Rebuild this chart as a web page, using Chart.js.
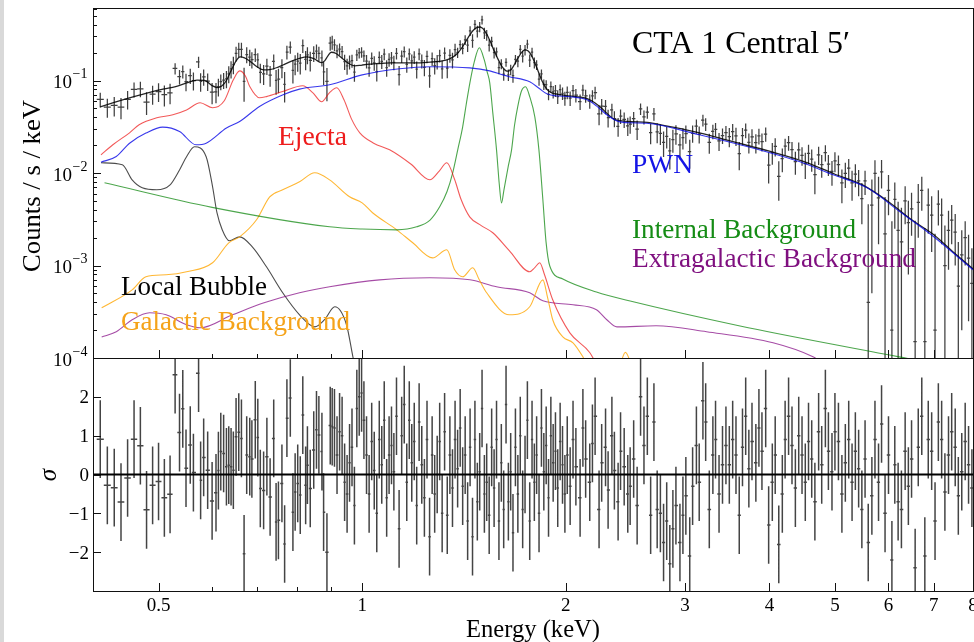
<!DOCTYPE html>
<html><head><meta charset="utf-8">
<script src="https://cdn.jsdelivr.net/npm/chart.js@4.4.0/dist/chart.umd.min.js"></script>
<style>
html,body{margin:0;padding:0;background:#fff;}
#wrap{position:relative;width:974px;height:642px;overflow:hidden;background:#fff;}
#strip{position:absolute;left:0;top:0;width:4px;height:642px;background:#d9d9d9;}
canvas{position:absolute;left:0;top:0;}
</style></head><body>
<div id="wrap"><div id="strip"></div>
<canvas id="top" width="974" height="642"></canvas>
<canvas id="bot" width="974" height="642"></canvas></div>
<script>
// ---------------- data ----------------
const dataE = [
0.410,0.420,0.430,0.440,0.450,0.460,0.470,0.480,0.490,0.500,0.510,0.520,0.529,0.537,0.543,0.549,0.557,0.563,0.573,0.577,
0.583,0.591,0.600,0.608,0.613,0.618,0.624,0.630,0.635,0.640,0.645,0.651,0.657,0.663,0.669,0.675,0.682,0.687,0.695,0.701,
0.707,0.715,0.723,0.731,0.740,0.746,0.752,0.761,0.768,0.774,0.783,0.790,0.796,0.803,0.810,0.817,0.825,0.830,0.838,0.848,
0.856,0.863,0.872,0.877,0.887,0.897,0.903,
0.910,0.918,0.926,0.934,0.942,0.950,0.958,0.966,0.974,0.982,0.990,0.998,1.006,1.015,1.024,1.033,1.042,1.051,1.060,1.069,
1.078,1.087,1.096,1.105,1.114,1.124,1.134,1.144,1.154,1.164,1.174,1.184,1.194,1.204,1.214,1.225,1.236,1.247,1.258,1.269,
1.280,1.291,1.302,1.313,1.324,1.336,1.348,1.360,1.372,1.384,1.396,1.408,1.420,1.432,1.444,1.456,1.468,1.480,1.492,1.504,
1.516,1.528,1.541,1.554,1.567,1.580,1.593,1.606,1.619,1.632,1.645,1.658,1.671,1.685,1.699,1.713,1.727,1.741,1.755,1.769,
1.783,1.797,1.811,1.826,1.841,1.856,1.871,1.886,1.901,1.916,1.931,1.946,1.962,1.978,1.994,
2.01,2.03,2.05,2.07,2.10,2.12,2.14,2.17,2.19,2.21,2.24,2.26,2.29,2.31,2.34,2.36,2.39,2.41,2.44,2.47,
2.49,2.52,2.55,2.58,2.61,2.64,2.67,2.70,2.73,2.76,2.79,2.82,2.85,2.88,2.91,2.95,2.98,3.01,3.05,3.08,
3.12,3.15,3.19,3.22,3.26,3.30,3.33,3.37,3.41,3.45,3.49,3.53,3.57,3.61,3.65,3.69,3.73,3.77,3.82,3.86,
3.90,3.95,3.99,4.04,4.08,4.13,4.18,4.22,4.27,4.32,4.37,4.42,4.47,4.52,4.57,4.62,4.67,4.73,4.78,4.84,
4.89,4.95,5.00,5.06,5.12,5.18,5.24,5.30,5.36,5.42,5.48,5.54,5.60,5.67,5.73,5.80,5.86,5.93,6.00,6.07,
6.13,6.20,6.27,6.35,6.42,6.49,6.57,6.64,6.72,6.79,6.87,6.95,7.03,7.11,7.19,7.27,7.36,7.44,7.53,7.61,
7.70,7.79,7.88,7.97];
const dataY = [
0.0624,0.0516,0.0537,0.0515,0.0627,0.0804,0.0814,0.0584,0.0713,0.0759,0.0703,0.0737,0.135,0.110,0.125,0.0973,0.113,0.100,0.159,0.0977,
0.1097,0.0983,0.0748,0.0753,0.0858,0.0972,0.1007,0.1044,0.1179,0.1336,0.1485,0.1966,0.217,0.217,0.098,0.191,0.1795,0.1686,0.190,0.1668,
0.1225,0.1183,0.1432,0.1143,0.1614,0.1002,0.1036,0.1377,0.0909,0.2031,0.2293,0.129,0.1505,0.1623,0.1546,0.238,0.1689,0.1895,0.1648,0.197,
0.208,0.1959,0.1762,0.1243,0.098,0.2529,0.2605,
0.243,0.209,0.219,0.205,0.160,0.144,0.159,0.164,0.123,0.189,0.199,0.203,0.185,0.162,0.137,0.174,0.155,0.125,0.178,0.161,
0.193,0.138,0.169,0.176,0.157,0.197,0.116,0.183,0.205,0.149,0.194,0.163,0.179,0.133,0.194,0.163,0.139,0.182,0.112,0.172,
0.145,0.160,0.186,0.134,0.198,0.136,0.187,0.167,0.216,0.201,0.245,0.223,0.275,0.241,0.344,0.271,0.404,0.341,0.381,0.452,
0.327,0.310,0.242,0.265,0.200,0.204,0.138,0.151,0.117,0.157,0.115,0.131,0.113,0.169,0.162,0.217,0.183,0.214,0.248,0.166,
0.203,0.156,0.148,0.1035,0.118,0.0908,0.090,0.0710,0.0858,0.0755,0.0778,0.0670,0.0795,0.0728,0.0644,
0.0743,0.0645,0.0778,0.0693,0.0593,0.0789,0.0684,0.0599,0.0682,0.0741,0.0435,0.053,0.0524,0.0396,0.048,0.0388,0.032,0.0412,0.0379,0.0324,
0.0337,0.0386,0.0298,0.0494,0.0405,0.0455,0.0274,0.0436,0.0278,0.0268,0.0215,0.0249,0.0174,0.023,0.0265,0.0202,0.0241,0.0267,0.017,0.0269,
0.0322,0.0264,0.0373,0.0338,0.0214,0.0282,0.0297,0.0222,0.0254,0.0274,0.0248,0.0281,0.0252,0.0162,0.0253,0.029,0.0215,0.0246,0.0213,0.0252,
0.0219,0.0264,0.0122,0.0167,0.0194,0.0092,0.0143,0.0195,0.0213,0.0179,0.0133,0.0178,0.0155,0.0126,0.0163,0.0141,0.0096,0.0157,0.0123,0.0166,
0.0125,0.0104,0.0135,0.0123,0.0078,0.0099,0.0113,0.0078,0.0097,0.0082,0.0053,0.0082,0.0004,0.0045,0.0099,0.0054,0.0103,0.0022,0.0065,0.0002,
0.0052,0.0024,0.0018,0.005,0.0029,0.0041,0.00015,0.0048,0.0065,0.00015,0.0045,0.0035,0.0002,0.0046,0.0035,0.001,0.0024,0.0031,0.0023,0.0006,
0.0013,0.002,0.0012,0.00064];
const dataErr = [
0.0114,0.0121,0.0128,0.0134,0.0141,0.0147,0.0154,0.0161,0.0167,0.0174,0.0178,0.0183,0.0189,0.0196,0.0200,0.0207,0.0213,0.0218,0.0222,0.0222,
0.0220,0.0211,0.0194,0.0185,0.0185,0.0189,0.0198,0.0220,0.0246,0.0282,0.0319,0.0356,0.0385,0.0396,0.0392,0.0378,0.0359,0.0341,0.0319,0.0304,
0.0293,0.0286,0.0286,0.0288,0.0295,0.0301,0.0308,0.0319,0.0330,0.0339,0.0352,0.0361,0.0367,0.0376,0.0385,0.0392,0.0396,0.0396,0.0394,0.0380,
0.0365,0.0352,0.0343,0.0348,0.0385,0.0436,0.0451,
0.036,0.0346,0.0329,0.0313,0.0299,0.0284,0.0272,0.0263,0.0259,0.0261,0.0263,0.0265,0.0266,0.0268,0.027,0.0272,0.0274,0.0274,0.0275,0.0277,
0.0277,0.0279,0.0279,0.0279,0.0279,0.0279,0.0279,0.0279,0.0279,0.0279,0.0279,0.0279,0.0279,0.0279,0.0281,0.0281,0.0281,0.0283,0.0284,0.0284,
0.0286,0.0288,0.029,0.0293,0.0297,0.0302,0.031,0.032,0.0335,0.0256,0.0276,0.0302,0.0335,0.0372,0.041,0.0445,0.047,0.0488,0.0491,0.0481,
0.0455,0.0413,0.0364,0.0316,0.0273,0.0238,0.0212,0.0189,0.0173,0.0165,0.0164,0.0169,0.0182,0.0202,0.0225,0.025,0.0269,0.0278,0.0273,0.0256,
0.0237,0.0208,0.0181,0.0155,0.0133,0.0117,0.0107,0.010,0.0118,0.0115,0.0114,0.0114,0.0112,0.0112,0.0112,
0.0116,0.0116,0.0115,0.0114,0.0112,0.0111,0.0109,0.0105,0.0102,0.0114,0.0106,0.010,0.0092,0.0086,0.008,0.0076,0.0074,0.0074,0.0073,0.0072,
0.0072,0.0071,0.0071,0.0071,0.007,0.007,0.0069,0.0069,0.0068,0.0067,0.0066,0.0065,0.0065,0.0064,0.0063,0.0062,0.0061,0.006,0.0059,0.0057,
0.0056,0.0055,0.0054,0.0053,0.0052,0.0051,0.005,0.0049,0.0048,0.0048,0.0058,0.0057,0.0056,0.0055,0.0054,0.0053,0.0052,0.0051,0.005,0.0049,
0.0048,0.0046,0.0045,0.0044,0.0043,0.0042,0.0041,0.004,0.0039,0.0038,0.0037,0.0036,0.0035,0.004,0.0039,0.0038,0.0037,0.0035,0.0034,0.0033,
0.0032,0.0031,0.0033,0.0032,0.0031,0.003,0.0029,0.0028,0.0027,0.0026,0.0025,0.0024,0.0042,0.004,0.0038,0.0037,0.0035,0.0033,0.003,0.0028,
0.0027,0.0025,0.0024,0.0022,0.0021,0.002,0.0029,0.0028,0.0026,0.0024,0.0023,0.0021,0.002,0.0019,0.0018,0.0017,0.0015,0.0014,0.0013,0.0012,
0.0011,0.001,0.00095,0.0009];
const residual = [
0.91,-0.28,-0.34,-0.71,-0.09,0.91,0.74,-0.91,-0.28,-0.18,-0.60,-0.51,2.57,1.08,1.69,0.16,0.76,0.05,2.61,-0.15,
0.44,0.11,-0.68,-0.47,0.10,0.59,0.54,0.20,0.24,0.20,0.11,0.97,1.09,0.93,-2.04,0.50,0.46,0.40,1.41,0.95,
-0.36,-0.41,0.46,-0.58,0.93,-1.22,-1.18,-0.23,-1.79,1.45,1.97,-0.97,-0.45,-0.23,-0.53,1.53,-0.28,0.24,-0.36,0.63,
1.15,1.02,0.59,-0.97,-2.00,1.26,1.23,
1.2,0.5,1.1,1.0,-0.2,-0.5,0.3,0.7,-0.8,1.7,2.0,2.1,1.4,0.5,-0.5,0.85,0.1,-1.0,0.9,0.25,
1.4,-0.6,0.5,0.75,0.07,1.5,-1.4,1.0,1.8,-0.2,1.4,0.3,0.85,-0.8,1.35,0.25,-0.6,0.9,-1.6,0.5,
-0.5,0,0.85,-1.0,1.1,-1.05,0.5,-0.35,0.9,0.15,1.2,-0.3,0.5,-1.2,0.7,-1.6,0.9,-0.7,0.07,1.7,
-0.5,-0.2,-1.05,0.7,-0.35,0.9,-1.2,0.3,-0.9,1.8,-0.7,0.07,-1.5,0.7,-0.5,1.0,-0.9,0,1.4,-1.2,
0.9,-0.2,0.5,-1.0,1.2,0.07,0.75,-0.6,1.0,0.3,0.6,-0.35,0.85,0.25,-0.5,
0.5,-0.3,0.9,0.2,-0.6,1.2,0.4,-0.2,0.8,1.5,-0.9,0.3,0.7,-0.4,1.0,0.1,-0.7,0.6,0.2,-0.5,
-0.3,0.4,-0.8,2.0,0.75,1.5,-1.05,1.35,-0.9,-1.0,-1.75,-1.2,-2.3,-1.4,-0.8,-1.75,-1.05,-0.55,-2.1,-0.3,
0.75,-0.2,1.9,1.35,-0.9,0.5,0.9,-0.5,0.25,0.75,0.25,0.9,0.5,-1.05,0.7,1.5,0.15,0.85,0.3,1.2,
0.6,1.7,-1.3,-0.2,0.5,-1.8,-0.5,0.9,1.5,0.75,-0.35,1.0,0.5,-0.2,0.85,0.4,-0.7,1.1,0.25,1.7,
0.6,0.07,1.1,0.85,-0.5,0.3,0.9,-0.2,0.6,0.15,-0.9,0.4,-1.75,-0.55,0.9,-0.2,1.3,-1.0,0.5,-2.2,
0.25,-0.7,-0.9,0.6,-0.3,0.4,-2.4,0.7,1.5,-2.1,0.9,0.6,-1.2,1.35,0.9,-0.45,0.5,1.1,0.7,-0.55,
0.07,0.85,0.25,-0.35];
const RES_ERR = 1; // residuals are in units of sigma

// model components
const totE = [0.41,0.43,0.45,0.47,0.49,0.51,0.53,0.55,0.57,0.585,0.60,0.61,0.62,0.63,0.64,0.65,0.66,0.67,0.68,0.69,0.70,0.715,0.73,0.75,0.77,0.79,0.81,0.83,0.85,0.87,0.88,0.89,0.90,0.915,0.935,0.955,0.975,1.0,1.05,1.10,1.20,1.26,1.30,1.33,1.36,1.385,1.41,1.435,1.46,1.48,1.495,1.51,1.53,1.55,1.57,1.59,1.61,1.63,1.645,1.66,1.68,1.70,1.72,1.74,1.76,1.78,1.80,1.82,1.84,1.86,1.88,1.91,1.95,2.0,2.07,2.12,2.17,2.21,2.26,2.31,2.36,2.42,2.5,2.64,2.8,3.0,3.2,3.5,4.0,4.5,5.0,5.5,6.0,6.5,7.0,7.5,8.0];
const totV = [0.052,0.058,0.064,0.070,0.076,0.081,0.086,0.094,0.101,0.100,0.088,0.084,0.087,0.100,0.128,0.160,0.180,0.176,0.165,0.152,0.140,0.130,0.131,0.139,0.151,0.164,0.175,0.180,0.171,0.156,0.163,0.185,0.202,0.196,0.173,0.153,0.144,0.147,0.152,0.155,0.155,0.158,0.161,0.166,0.178,0.198,0.236,0.293,0.350,0.375,0.378,0.362,0.312,0.254,0.203,0.167,0.141,0.128,0.126,0.131,0.150,0.175,0.200,0.214,0.208,0.186,0.156,0.127,0.103,0.088,0.079,0.073,0.071,0.0688,0.067,0.0655,0.062,0.057,0.050,0.043,0.038,0.0366,0.0358,0.0353,0.0325,0.0295,0.0265,0.0222,0.0172,0.0133,0.0097,0.0074,0.0049,0.0031,0.00215,0.00137,0.00092];
const pwnE = [0.411,0.433,0.453,0.479,0.507,0.537,0.568,0.588,0.630,0.659,0.705,0.764,0.808,0.895,1.0,1.136,1.259,1.443,1.544,1.614,1.65,1.769,1.83,1.875,1.93,2.03,2.15,2.22,2.30,2.38,2.49,2.63,3.15,3.97,4.44,4.97,5.58,6.24,6.97,8.0];
const pwnV = [0.0131,0.0151,0.0210,0.0270,0.0313,0.0281,0.0202,0.0210,0.0306,0.0360,0.0524,0.0701,0.0807,0.0899,0.115,0.134,0.141,0.137,0.127,0.115,0.110,0.0968,0.0813,0.0718,0.0684,0.0668,0.0618,0.0532,0.0426,0.0366,0.0349,0.0345,0.0259,0.0169,0.0132,0.00955,0.00691,0.00381,0.0021,0.0009];
const ejE = [0.411,0.428,0.453,0.468,0.497,0.525,0.55,0.576,0.601,0.625,0.645,0.659,0.672,0.682,0.705,0.722,0.763,0.817,0.845,0.871,0.895,0.917,0.94,0.965,0.992,1.04,1.098,1.18,1.259,1.30,1.334,1.37,1.40,1.442,1.50,1.56,1.65,1.769,1.80,1.83,1.86,1.913,2.028,2.171,2.23];
const ejV = [0.0157,0.0202,0.0272,0.0332,0.0395,0.0426,0.048,0.0574,0.0507,0.060,0.102,0.127,0.112,0.086,0.065,0.067,0.076,0.0877,0.074,0.0589,0.074,0.0834,0.062,0.038,0.0272,0.021,0.0178,0.0125,0.00845,0.0105,0.0129,0.0085,0.0052,0.00336,0.0027,0.00226,0.00145,0.000855,0.00095,0.00107,0.0008,0.000426,0.000187,0.000114,0.00008];
const ibE = [0.416,0.60,0.895,1.0,1.125,1.204,1.26,1.302,1.335,1.361,1.385,1.408,1.425,1.443,1.465,1.49,1.515,1.53,1.544,1.56,1.58,1.595,1.607,1.62,1.645,1.663,1.68,1.698,1.72,1.744,1.77,1.80,1.825,1.85,1.87,1.894,1.98,2.22,2.49,3.62,5.7,7.3,8.0];
const ibV = [0.00783,0.00425,0.00262,0.00248,0.00243,0.00262,0.0031,0.00431,0.0063,0.01005,0.018,0.0316,0.055,0.0944,0.16,0.226,0.168,0.125,0.0944,0.045,0.0178,0.0075,0.00476,0.0065,0.012,0.0178,0.033,0.052,0.077,0.0856,0.066,0.0405,0.018,0.00513,0.0018,0.000987,0.000714,0.000517,0.000413,0.000222,0.000116,0.0000818,0.00007];
const egE = [0.412,0.433,0.457,0.485,0.513,0.55,0.576,0.643,0.716,0.808,0.895,1.061,1.259,1.443,1.58,1.769,1.85,2.05,2.22,2.30,2.38,2.72,3.23,4.05,4.64,4.9];
const egV = [0.000169,0.000192,0.000259,0.000308,0.000293,0.000229,0.000212,0.000293,0.000395,0.000507,0.000589,0.0007,0.000736,0.0007,0.000589,0.000507,0.000415,0.000376,0.000332,0.000259,0.000217,0.000223,0.000192,0.000146,0.000103,0.00008];
const gbE = [0.412,0.457,0.479,0.513,0.55,0.601,0.635,0.659,0.698,0.73,0.763,0.808,0.851,0.895,0.958,1.0,1.036,1.125,1.188,1.271,1.334,1.37,1.408,1.457,1.49,1.528,1.65,1.769,1.85,1.88,1.913,1.98,2.05,2.12,2.16,2.38,2.45,2.52];
const gbV = [0.000349,0.000546,0.000755,0.000793,0.000855,0.00107,0.00176,0.00204,0.00312,0.00553,0.00658,0.00803,0.01005,0.00843,0.00553,0.00476,0.00372,0.00243,0.00176,0.00121,0.00148,0.0009,0.000755,0.000944,0.0007,0.000507,0.000293,0.000358,0.0007,0.00045,0.000259,0.000169,0.000146,0.000103,0.00008,0.00007,0.000115,0.00007];
const lbE = [0.411,0.442,0.457,0.473,0.497,0.52,0.537,0.55,0.565,0.588,0.601,0.610,0.621,0.636,0.659,0.688,0.722,0.763,0.808,0.851,0.88,0.911,0.948,0.969,0.98];
const lbV = [0.0129,0.0123,0.00845,0.00692,0.00658,0.00745,0.0108,0.0150,0.0192,0.0150,0.00709,0.00372,0.00243,0.00185,0.00204,0.00159,0.000968,0.000507,0.000293,0.000217,0.00026,0.000358,0.000229,0.000103,0.00007];

// axes / ticks
const X_MIN = 0.4, X_MAX = 8, Y_MIN = 1e-4, Y_MAX = 0.608, R_MIN = -3, R_MAX = 3;
const xMajor = [0.5,1,2,3,4,5,6,7,8];
const xMajorLabels = ['0.5','1','2','3','4','5','6','7','8'];
const xMinor = [0.6,0.7,0.8,0.9];
const yMajorTop = [1e-4,1e-3,1e-2,1e-1];
const yMajorTopExp = ['\u22124','\u22123','\u22122','\u22121'];
const yMinorMult = [2,3,4,5,6,7,8,9];
const resTicks = [-2,-1,0,1,2];
const resTickLabels = ['\u22122','\u22121','0','1','2'];

const labels = [
  {t:'CTA 1 Central 5\u2032', x:632, y:53, w:218, size:31, c:'#000'},
  {t:'Ejecta', x:278, y:145, w:69, size:27, c:'#ee1c1c'},
  {t:'PWN', x:632, y:173, w:61, size:27, c:'#1414e6'},
  {t:'Internal Background', x:632, y:238, w:224, size:27, c:'#158c15'},
  {t:'Extragalactic Background', x:632, y:267, w:284, size:27, c:'#7f0f7f'},
  {t:'Local Bubble', x:121, y:295, w:146, size:27, c:'#000'},
  {t:'Galactic Background', x:121, y:330, w:229, size:27, c:'#f5a31a'}
];

const FONT = '"Liberation Serif","Times New Roman",serif';
const pts = (xs, ys) => xs.map((x, i) => ({x, y: ys[i]}));

function fitText(ctx, str, x, y, w, size, color, style) {
  ctx.save();
  ctx.font = (style ? style + ' ' : '') + size + 'px ' + FONT;
  const m = ctx.measureText(str).width;
  const s = w ? w / m : 1;
  ctx.translate(x, y); ctx.scale(s, 1);
  ctx.fillStyle = color; ctx.textAlign = 'left'; ctx.textBaseline = 'alphabetic';
  ctx.fillText(str, 0, 0);
  ctx.restore();
}

const errorBars = {
  id: 'errorBars',
  beforeDatasetsDraw(chart) {
    const {ctx, chartArea: a} = chart;
    const xs = chart.scales.x, ys = chart.scales.y;
    ctx.save();
    ctx.beginPath(); ctx.rect(a.left, a.top, a.right - a.left, a.bottom - a.top); ctx.clip();
    chart.data.datasets.forEach(ds => {
      if (!ds.errY) return;
      const p = ds.data, n = p.length;
      ctx.strokeStyle = ds.errColor; ctx.lineWidth = ds.errWidth || 1;
      ctx.beginPath();
      for (let i = 0; i < n; i++) {
        const q = p[i];
        const eL = i > 0 ? Math.sqrt(p[i-1].x * q.x) : q.x * q.x / Math.sqrt(q.x * p[1].x);
        const eR = i < n - 1 ? Math.sqrt(p[i+1].x * q.x) : q.x * q.x / Math.sqrt(q.x * p[n-2].x);
        const px = xs.getPixelForValue(q.x);
        const lo = q.y - ds.errY[i], hi = q.y + ds.errY[i];
        const pLo = (ys.type === 'logarithmic' && lo <= ys.min) ? a.bottom + 2 : ys.getPixelForValue(lo);
        const pHi = ys.getPixelForValue(hi);
        const pc = ys.getPixelForValue(q.y);
        ctx.moveTo(px, pLo); ctx.lineTo(px, pHi);
        ctx.moveTo(xs.getPixelForValue(eL), pc); ctx.lineTo(xs.getPixelForValue(eR), pc);
      }
      ctx.stroke();
    });
    ctx.restore();
  }
};

function drawFrame(ctx, a) {
  ctx.strokeStyle = '#111'; ctx.lineWidth = 1;
  ctx.strokeRect(a.left + 0.5, a.top + 0.5, a.right - a.left, a.bottom - a.top);
}
function xTicks(ctx, xs, a) {
  ctx.beginPath();
  xMajor.forEach(v => { const p = Math.round(xs.getPixelForValue(v)) + 0.5; ctx.moveTo(p, a.bottom); ctx.lineTo(p, a.bottom - 8); });
  xMinor.forEach(v => { const p = Math.round(xs.getPixelForValue(v)) + 0.5; ctx.moveTo(p, a.bottom); ctx.lineTo(p, a.bottom - 4); });
  ctx.stroke();
}

const topDecor = {
  id: 'topDecor',
  afterDraw(chart) {
    const {ctx, chartArea: a} = chart;
    const xs = chart.scales.x, ys = chart.scales.y;
    ctx.save();
    drawFrame(ctx, a);
    ctx.beginPath();
    yMajorTop.forEach(v => {
      const p = Math.round(ys.getPixelForValue(v)) + 0.5;
      ctx.moveTo(a.left, p); ctx.lineTo(a.left + 8, p);
      yMinorMult.forEach(k => {
        const mv = v * k; if (mv > Y_MAX) return;
        const q = Math.round(ys.getPixelForValue(mv)) + 0.5;
        ctx.moveTo(a.left, q); ctx.lineTo(a.left + 4, q);
      });
    });
    ctx.stroke();
    xTicks(ctx, xs, a);
    ctx.fillStyle = '#000';
    yMajorTop.forEach((v, i) => {
      const p = ys.getPixelForValue(v);
      ctx.font = '19px ' + FONT; ctx.textAlign = 'right'; ctx.textBaseline = 'alphabetic';
      ctx.fillText('10', 72, p + 7.5);
      ctx.font = '14px ' + FONT; ctx.textAlign = 'left';
      ctx.fillText(yMajorTopExp[i], 72.5, p - 2.5);
    });
    ctx.save();
    ctx.translate(40, 186); ctx.rotate(-Math.PI / 2);
    fitText(ctx, 'Counts / s / keV', -86, 0, 172, 26, '#000');
    ctx.restore();
    labels.forEach(l => fitText(ctx, l.t, l.x, l.y, l.w, l.size, l.c));
    ctx.restore();
  }
};

const botDecor = {
  id: 'botDecor',
  afterDraw(chart) {
    const {ctx, chartArea: a} = chart;
    const xs = chart.scales.x, ys = chart.scales.y;
    ctx.save();
    drawFrame(ctx, a);
    ctx.beginPath();
    resTicks.forEach(v => { const p = Math.round(ys.getPixelForValue(v)) + 0.5; ctx.moveTo(a.left, p); ctx.lineTo(a.left + 8, p); });
    ctx.stroke();
    xTicks(ctx, xs, a);
    ctx.fillStyle = '#000';
    ctx.font = '19px ' + FONT; ctx.textBaseline = 'alphabetic';
    ctx.textAlign = 'right';
    resTicks.forEach((v, i) => ctx.fillText(resTickLabels[i], 89, ys.getPixelForValue(v) + 6.5));
    ctx.textAlign = 'center';
    xMajor.forEach((v, i) => ctx.fillText(xMajorLabels[i], xs.getPixelForValue(v), 611));
    fitText(ctx, 'Energy (keV)', 466, 637, 134, 25, '#000');
    ctx.save();
    ctx.translate(56, 475); ctx.rotate(-Math.PI / 2);
    ctx.font = 'italic 25px ' + FONT; ctx.textAlign = 'center'; ctx.fillStyle = '#000';
    ctx.fillText('\u03c3', 0, 0);
    ctx.restore();
    ctx.restore();
  }
};

const line = (label, xs, ys, color, w) => ({
  label, type: 'line', data: pts(xs, ys), borderColor: color, borderWidth: w || 1.1,
  pointRadius: 0, fill: false, cubicInterpolationMode: 'monotone'
});

new Chart(document.getElementById('top'), {
  type: 'scatter',
  data: { datasets: [
    line('PWN', pwnE, pwnV, 'rgba(0,0,230,0.78)'),
    line('Ejecta', ejE, ejV, 'rgba(235,0,0,0.65)'),
    line('Internal Background', ibE, ibV, 'rgba(0,128,0,0.7)'),
    line('Galactic Background', gbE, gbV, 'rgba(255,165,0,0.8)'),
    line('Extragalactic Background', egE, egV, 'rgba(128,0,128,0.7)'),
    line('Local Bubble', lbE, lbV, 'rgba(0,0,0,0.7)'),
    line('Total model', totE, totV, 'rgba(0,0,0,0.85)', 1.3),
    {label: 'data', type: 'scatter', data: pts(dataE, dataY), pointRadius: 0, showLine: false,
     errY: dataErr, errColor: 'rgba(15,15,15,0.8)', errWidth: 1.25}
  ]},
  options: {
    responsive: false, animation: false, devicePixelRatio: 1,
    layout: {padding: {left: 93, top: 8, right: 1, bottom: 642 - 358}},
    plugins: {legend: {display: false}, tooltip: {enabled: false}},
    scales: {
      x: {type: 'logarithmic', min: X_MIN, max: X_MAX, display: false},
      y: {type: 'logarithmic', min: Y_MIN, max: Y_MAX, display: false}
    }
  },
  plugins: [errorBars, topDecor]
});

new Chart(document.getElementById('bot'), {
  type: 'scatter',
  data: { datasets: [
    {label: 'zero', type: 'line', data: [{x: X_MIN, y: 0}, {x: X_MAX, y: 0}], borderColor: '#000', borderWidth: 1.8, pointRadius: 0},
    {label: 'residuals', type: 'scatter', data: pts(dataE, residual), pointRadius: 0, showLine: false,
     errY: dataE.map(() => RES_ERR), errColor: 'rgba(15,15,15,0.78)', errWidth: 1.5}
  ]},
  options: {
    responsive: false, animation: false, devicePixelRatio: 1,
    layout: {padding: {left: 93, top: 358, right: 1, bottom: 642 - 591}},
    plugins: {legend: {display: false}, tooltip: {enabled: false}},
    scales: {
      x: {type: 'logarithmic', min: X_MIN, max: X_MAX, display: false},
      y: {type: 'linear', min: R_MIN, max: R_MAX, display: false}
    }
  },
  plugins: [errorBars, botDecor]
});
</script></body></html>
